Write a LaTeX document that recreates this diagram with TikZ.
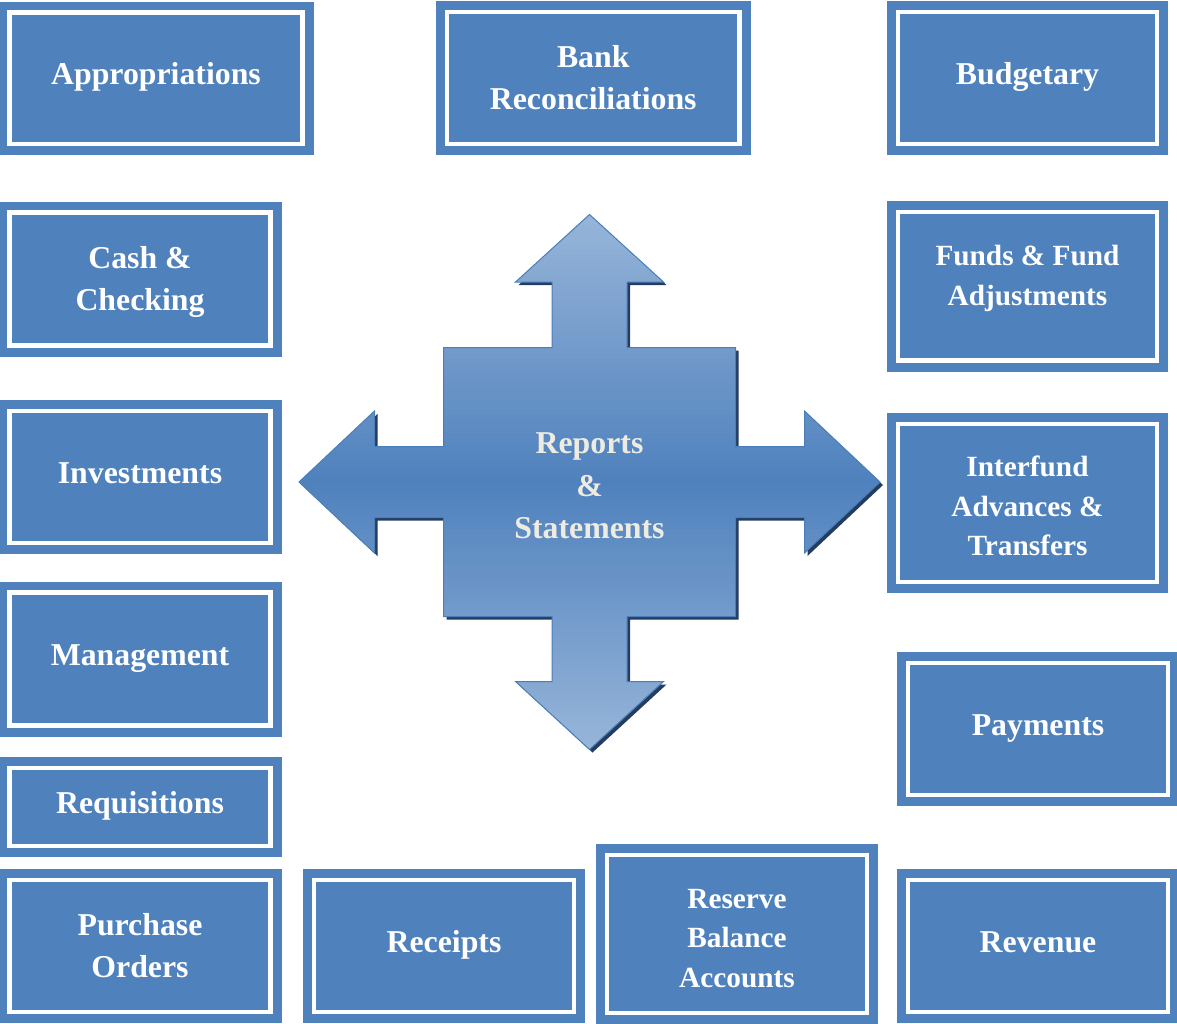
\documentclass[tikz,border=0pt]{standalone}
\usepackage{fontspec}
\setmainfont{Liberation Serif}
\usepackage{tikz}
\newcommand{\crossoutline}{(589.5,214.5) -- (663.5,282) -- (627,282) -- (627,347.5) -- (735.5,347.5) -- (735.5,446.5) -- (804.5,446.5) -- (804.5,411) -- (880,482) -- (804.5,553) -- (804.5,517.5) -- (735.5,517.5) -- (735.5,616.5) -- (627,616.5) -- (627,681.5) -- (663.5,681.5) -- (589.5,749.5) -- (515.5,681.5) -- (552,681.5) -- (552,616.5) -- (443.5,616.5) -- (443.5,517.5) -- (374.5,517.5) -- (374.5,553) -- (299,482) -- (374.5,411) -- (374.5,446.5) -- (443.5,446.5) -- (443.5,347.5) -- (552,347.5) -- (552,282) -- (515.5,282) -- cycle}

\begin{document}
\begin{tikzpicture}[x=1pt,y=-1pt,
    panel/.style={fill=boxblue,draw=white,line width=4.5pt,preaction={draw=boxblue,line width=22pt},
      text=white,align=center,inner sep=0pt,font=\bfseries\fontsize{31.8}{42}\selectfont},
    oneline/.style={text height=22pt,text depth=10pt},
    small/.style={font=\bfseries\fontsize{29.3}{39.5}\selectfont}]

    \definecolor{boxblue}{RGB}{79,129,189}
    \definecolor{lightblue}{RGB}{151,181,217}
    \definecolor{crossedge}{RGB}{74,126,187}
    \definecolor{shadownavy}{RGB}{36,60,96}
    \definecolor{cream}{RGB}{238,236,225}
    \useasboundingbox (0,0) rectangle (1177,1023);

    \node[panel,oneline,minimum width=293pt,minimum height=131.5pt] (appr) at (156,78.25) {Appropriations};
    \node[panel,minimum width=292.5pt,minimum height=132pt] (bank) at (593.25,78) {Bank\\Reconciliations};
    \node[panel,oneline,minimum width=259pt,minimum height=132pt] (budget) at (1027.5,78) {Budgetary};
    \node[panel,text depth=1pt,minimum width=261pt,minimum height=133pt] (cash) at (140,279) {Cash \&\\Checking};
    \node[panel,small,text depth=22pt,minimum width=259pt,minimum height=148.5pt] (funds) at (1027.5,286.25) {Funds \& Fund\\Adjustments};
    \node[panel,oneline,minimum width=261pt,minimum height=132pt] (invest) at (140,477) {Investments};
    \node[panel,small,text height=106pt,minimum width=259pt,minimum height=158pt] (interfund) at (1027.5,503) {Interfund\\Advances \&\\Transfers};
    \node[panel,oneline,minimum width=261pt,minimum height=133pt] (mgmt) at (140,659) {Management};
    \node[panel,oneline,minimum width=260pt,minimum height=132pt] (payments) at (1038,729) {Payments};
    \node[panel,oneline,minimum width=261pt,minimum height=78pt] (requis) at (140,807) {Requisitions};
    \node[panel,minimum width=261pt,minimum height=132pt] (purchase) at (140,946) {Purchase\\Orders};
    \node[panel,oneline,minimum width=260pt,minimum height=132pt] (receipts) at (444,946) {Receipts};
    \node[panel,small,text height=107pt,minimum width=260pt,minimum height=158pt] (reserve) at (737,934) {Reserve\\Balance\\Accounts};
    \node[panel,oneline,minimum width=260pt,minimum height=132pt] (revenue) at (1038,946) {Revenue};

    \fill[shadownavy,shift={(3,3)}] \crossoutline;
    \begin{scope}
      \clip \crossoutline;
      \foreach \i in {0,...,106} {
        \pgfmathsetmacro\mixpct{100-abs(217+5*\i-482)/2.675}
        \fill[boxblue!\mixpct!lightblue] (299,214+5*\i) rectangle (881,220+5*\i);
      }
    \end{scope}
    \draw[crossedge,line width=1pt] \crossoutline;
    \node[text=cream,align=center,inner sep=0pt,font=\bfseries\fontsize{31.8}{42.5}\selectfont] (reports) at (589.5,486) {Reports\\\&\\Statements};
\end{tikzpicture}
\end{document}
